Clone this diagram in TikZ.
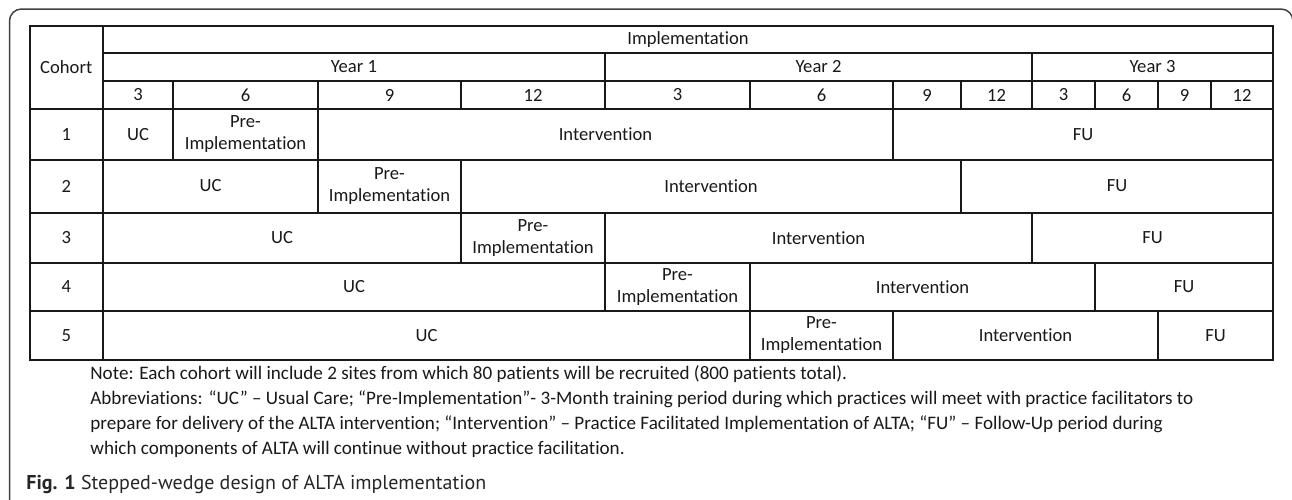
\documentclass[tikz,border=0pt]{standalone}
\usepackage{fontspec}
\setmainfont{Carlito}[Ligatures=NoCommon]
\newfontfamily\capfont{PT Sans}
\usetikzlibrary{positioning}

\begin{document}
\begin{tikzpicture}[
    x=0.5pt, y=-0.5pt,
    every node/.style={font=\fontsize{9.3}{10.8}\selectfont, text=black!90},
    cell/.style={draw=black!90, line width=1pt, inner sep=0pt, align=center},
    head/.style={cell, minimum height=14pt},
    rowa/.style={cell, minimum height=25.25pt},
    rowb/.style={cell, minimum height=26.5pt},
    rowc/.style={cell, minimum height=25.25pt},
    rowd/.style={cell, minimum height=24pt},
    rowe/.style={cell, minimum height=24.25pt},
    frame/.style={draw=black!75, line width=0.75pt, rounded corners=6pt}
]
\useasboundingbox (0,0) rectangle (1292,499);
\draw[frame] (9.5,510) -- (9.5,9) -- (1293,9) -- (1293,510);

% header
\node[cell, minimum width=36.75pt, minimum height=41.5pt] (cohort) at (66.25,67.5) {Cohort};
\node[cell, minimum width=585pt, minimum height=13.5pt] (impl) at (688,39.5) {Implementation};
\node[head, minimum width=251pt] (yearone) at (354,67) {Year 1};
\node[head, minimum width=213.5pt] (yeartwo) at (818.5,67) {Year 2};
\node[head, minimum width=120.5pt] (yearthree) at (1152.5,67) {Year 3};
\node[head, minimum width=35pt] (mA) at (138,95) {3};
\node[head, minimum width=72.5pt] (mB) at (245.5,95) {6};
\node[head, minimum width=71.5pt] (mC) at (389.5,95) {9};
\node[head, minimum width=72pt] (mD) at (533,95) {12};
\node[head, minimum width=72.5pt] (mE) at (677.5,95) {3};
\node[head, minimum width=71.5pt] (mF) at (821.5,95) {6};
\node[head, minimum width=34pt] (mG) at (927,95) {9};
\node[head, minimum width=35.5pt] (mH) at (996.5,95) {12};
\node[head, minimum width=31.5pt] (mI) at (1063.5,95) {3};
\node[head, minimum width=31.5pt] (mJ) at (1126.5,95) {6};
\node[head, minimum width=26.5pt] (mK) at (1184.5,95) {9};
\node[head, minimum width=31pt] (mL) at (1242,95) {12};

% cohort 1
\node[rowa, minimum width=36.75pt] (cA) at (66.25,134.25) {1};
\node[rowa, minimum width=35pt] (ucA) at (138,134.25) {UC};
\node[rowa, minimum width=72.5pt] (preA) at (245.5,134.25) {Pre-\\Implementation};
\node[rowa, minimum width=287.5pt] (intA) at (605.5,134.25) {Intervention};
\node[rowa, minimum width=190pt] (fuA) at (1083,134.25) {FU};
% cohort 2
\node[rowb, minimum width=36.75pt] (cB) at (66.25,186) {2};
\node[rowb, minimum width=107.5pt] (ucB) at (210.5,186) {UC};
\node[rowb, minimum width=71.5pt] (preB) at (389.5,186) {Pre-\\Implementation};
\node[rowb, minimum width=250pt] (intB) at (711,186) {Intervention};
\node[rowb, minimum width=156pt] (fuB) at (1117,186) {FU};
% cohort 3
\node[rowc, minimum width=36.75pt] (cC) at (66.25,237.75) {3};
\node[rowc, minimum width=179pt] (ucC) at (282,237.75) {UC};
\node[rowc, minimum width=72pt] (preC) at (533,237.75) {Pre-\\Implementation};
\node[rowc, minimum width=213.5pt] (intC) at (818.5,237.75) {Intervention};
\node[rowc, minimum width=120.5pt] (fuC) at (1152.5,237.75) {FU};
% cohort 4
\node[rowd, minimum width=36.75pt] (cD) at (66.25,287) {4};
\node[rowd, minimum width=251pt] (ucD) at (354,287) {UC};
\node[rowd, minimum width=72.5pt] (preD) at (677.5,287) {Pre-\\Implementation};
\node[rowd, minimum width=172.5pt] (intD) at (922.5,287) {Intervention};
\node[rowd, minimum width=89pt] (fuD) at (1184,287) {FU};
% cohort 5
\node[rowe, minimum width=36.75pt] (cE) at (66.25,335.25) {5};
\node[rowe, minimum width=323.5pt] (ucE) at (426.5,335.25) {UC};
\node[rowe, minimum width=71.5pt] (preE) at (821.5,335.25) {Pre-\\Implementation};
\node[rowe, minimum width=132.5pt] (intE) at (1025.5,335.25) {Intervention};
\node[rowe, minimum width=57.5pt] (fuE) at (1215.5,335.25) {FU};

% notes and caption
\node[anchor=north west, inner sep=0pt, align=left, font=\fontsize{9.55}{12.5}\selectfont] (notes) at (90,365)
  {Note: Each cohort will include 2 sites from which 80 patients will be recruited (800 patients total).\\
   Abbreviations: “UC” – Usual Care; “Pre-Implementation”- 3-Month training period during which practices will meet with practice facilitators to\\
   prepare for delivery of the ALTA intervention; “Intervention” – Practice Facilitated Implementation of ALTA; “FU” – Follow-Up period during\\
   which components of ALTA will continue without practice facilitation.};
\node[anchor=base west, inner sep=0pt, font=\capfont\fontsize{10}{12}\selectfont, text=black!85] (caption) at (26,489)
  {\textbf{Fig. 1} Stepped-wedge design of ALTA implementation};
\end{tikzpicture}
\end{document}
